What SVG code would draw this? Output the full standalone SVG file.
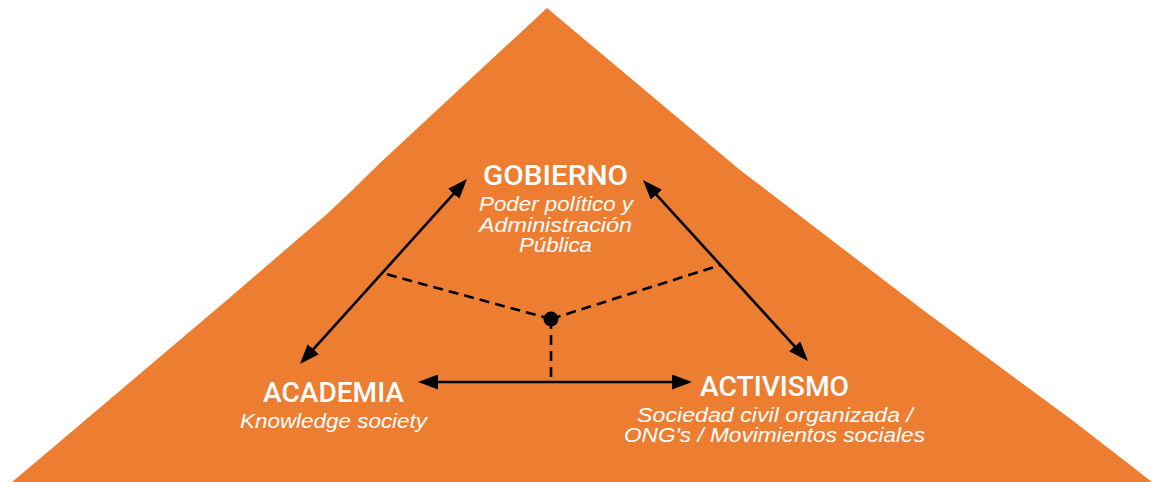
<svg xmlns="http://www.w3.org/2000/svg" width="1152" height="482" viewBox="0 0 1152 482">
  <style>
    .head { font-family: Roboto, "Liberation Sans", sans-serif; font-weight: 500; font-size: 28.5px; fill: #ffffff; text-anchor: middle; }
    .sub { font-family: "Liberation Sans", Arial, sans-serif; font-style: italic; font-size: 19.5px; fill: #ffffff; text-anchor: middle; }
    .link { stroke: #000000; stroke-width: 2.6; fill: none; }
    .dash { stroke: #000000; stroke-width: 2.6; fill: none; stroke-dasharray: 10 6; }
  </style>
  <defs>
    <marker id="head" markerUnits="userSpaceOnUse" markerWidth="20" markerHeight="15" refX="11" refY="7.5" orient="auto-start-reverse" viewBox="0 0 20 15">
      <path d="M0,0 L20,7.5 L0,15 z" fill="#000000"/>
    </marker>
  </defs>

  <!-- background mountain -->
  <path id="mountain" fill="#ED7D31" d="M547,8 L380,163 Q355,188 327,214 L227,300 L50,450 L12,482 L1152,482 L1072,420 L923,310 L740,170 Z"/>

  <!-- connectors -->
  <g id="connectors">
    <line class="link" x1="306" y1="357.3" x2="461" y2="185.7" marker-start="url(#head)" marker-end="url(#head)"/>
    <line class="link" x1="649" y1="186.6" x2="802" y2="354.4" marker-start="url(#head)" marker-end="url(#head)"/>
    <line class="link" x1="427" y1="382" x2="683" y2="382" marker-start="url(#head)" marker-end="url(#head)"/>
    <line class="dash" x1="551" y1="319" x2="382" y2="273"/>
    <line class="dash" x1="551" y1="319" x2="720.5" y2="265"/>
    <line class="dash" x1="551" y1="319" x2="551" y2="382"/>
    <circle cx="551" cy="319" r="7.5" fill="#000000"/>
  </g>

  <g id="gobierno">
    <text class="head" x="555.5" y="185" textLength="145" lengthAdjust="spacingAndGlyphs">GOBIERNO</text>
    <text class="sub" x="556" y="211" textLength="154" lengthAdjust="spacingAndGlyphs">Poder político y</text>
    <text class="sub" x="555.5" y="232" textLength="153" lengthAdjust="spacingAndGlyphs">Administración</text>
    <text class="sub" x="555.5" y="252" textLength="73" lengthAdjust="spacingAndGlyphs">Pública</text>
  </g>

  <g id="academia">
    <text class="head" x="333.5" y="402" textLength="141" lengthAdjust="spacingAndGlyphs">ACADEMIA</text>
    <text class="sub" x="333.5" y="428" textLength="187" lengthAdjust="spacingAndGlyphs">Knowledge society</text>
  </g>

  <g id="activismo">
    <text class="head" x="774.5" y="396" textLength="149" lengthAdjust="spacingAndGlyphs">ACTIVISMO</text>
    <text class="sub" x="775" y="422" textLength="276" lengthAdjust="spacingAndGlyphs">Sociedad civil organizada /</text>
    <text class="sub" x="774.5" y="442" textLength="301" lengthAdjust="spacingAndGlyphs">ONG's / Movimientos sociales</text>
  </g>
</svg>
